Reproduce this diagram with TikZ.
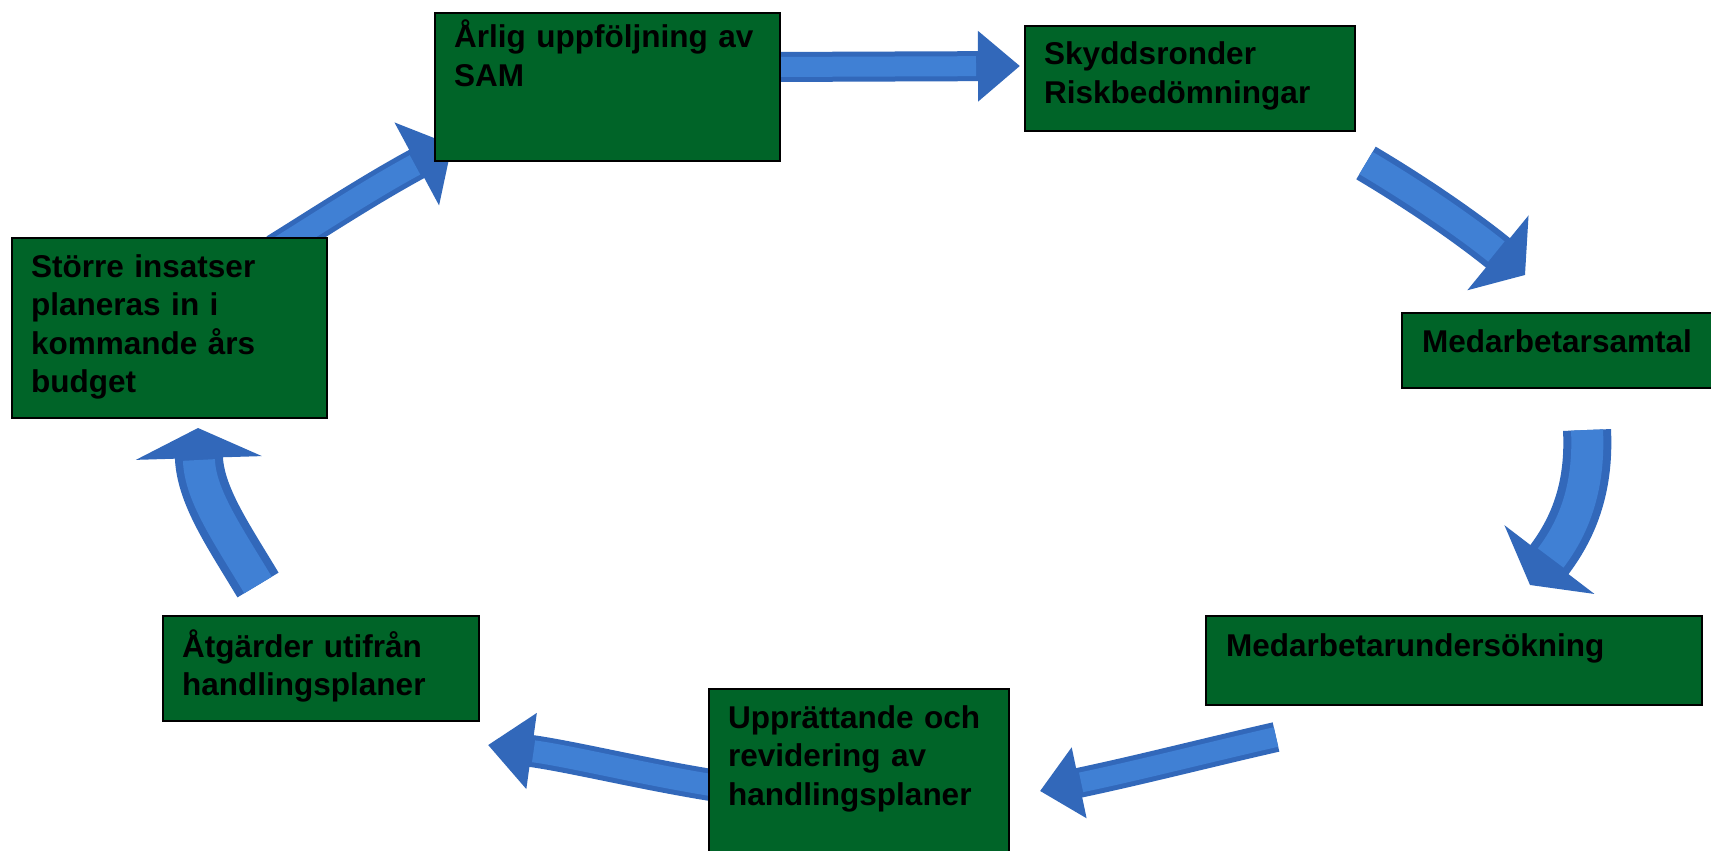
\documentclass[tikz,border=0pt]{standalone}
\usepackage{fontspec}
\setmainfont{Liberation Sans}
\usetikzlibrary{arrows.meta}
\definecolor{boxG}{RGB}{0,100,40}
\definecolor{arrD}{RGB}{50,104,186}
\definecolor{arrM}{RGB}{64,128,212}
\begin{document}
\begin{tikzpicture}[x=1pt,y=-1pt,
  box/.style={draw=black, line width=1.6pt, fill=boxG, inner sep=0pt, anchor=north west},
  lbl/.style={anchor=base west, inner sep=0pt, text width=430pt, align=left,
    font=\bfseries\fontsize{31.5}{38.5}\selectfont, text=black},
  arrowbody/.style n args={3}{draw=arrD, line width=#1, -{Triangle[width=#2,length=#3]}},
  shine/.style n args={2}{draw=arrM, line width=#1, shorten >=#2}
]
\useasboundingbox[fill=white] (0,0) rectangle (1711,851);

% arrow end points
\coordinate (a1s) at (770,67);   \coordinate (a1e) at (1020,66);
\coordinate (a2s) at (1366,163); \coordinate (a2e) at (1525,275);
\coordinate (a3s) at (1587,430); \coordinate (a3e) at (1530,585);
\coordinate (a4s) at (1276,737); \coordinate (a4e) at (1040,791);
\coordinate (a5s) at (730,788);  \coordinate (a5e) at (488,745);
\coordinate (a6s) at (258,585);  \coordinate (a6e) at (198,428);
\coordinate (a7s) at (275,250);  \coordinate (a7e) at (452,145);

% arrows
\draw[arrowbody={30pt}{68pt}{42pt}] (a1s) -- (a1e);
\draw[shine={20pt}{44pt}] (a1s) -- (a1e);

\draw[arrowbody={38pt}{95pt}{35pt}] (a2s) .. controls (1420,195) and (1470,230) .. (a2e);
\draw[shine={26pt}{37pt}] (a2s) .. controls (1420,195) and (1470,230) .. (a2e);

\draw[arrowbody={48pt}{112pt}{32pt}] (a3s) .. controls (1590,490) and (1572,530) .. (a3e);
\draw[shine={32pt}{34pt}] (a3s) .. controls (1590,490) and (1572,530) .. (a3e);

\draw[arrowbody={30pt}{70pt}{40pt}] (a4s) .. controls (1210,752) and (1140,770) .. (a4e);
\draw[shine={20pt}{42pt}] (a4s) .. controls (1210,752) and (1140,770) .. (a4e);

\draw[arrowbody={32pt}{74pt}{44pt}] (a5s) .. controls (650,776) and (575,757) .. (a5e);
\draw[shine={22pt}{46pt}] (a5s) .. controls (650,776) and (575,757) .. (a5e);

\draw[arrowbody={48pt}{125pt}{30pt}] (a6s) .. controls (228,535) and (200,495) .. (a6e);
\draw[shine={32pt}{32pt}] (a6s) .. controls (228,535) and (200,495) .. (a6e);

\draw[arrowbody={32pt}{92pt}{40pt}] (a7s) .. controls (320,222) and (372,188) .. (a7e);
\draw[shine={22pt}{42pt}] (a7s) .. controls (320,222) and (372,188) .. (a7e);

% boxes
\node[box, minimum width=345pt, minimum height=148pt] (b1) at (434,12) {};
\node[box, minimum width=330pt, minimum height=105pt] (b2) at (1024,25) {};
\node[box, minimum width=320pt, minimum height=75pt] (b3) at (1401,312) {};
\node[box, minimum width=496pt, minimum height=89pt] (b4) at (1205,615) {};
\node[box, minimum width=300pt, minimum height=175pt] (b5) at (708,688) {};
\node[box, minimum width=316pt, minimum height=105pt] (b6) at (162,615) {};
\node[box, minimum width=315pt, minimum height=180pt] (b7) at (11,237) {};

% labels
\node[lbl] (t1) at (454,48) {Årlig uppföljning av\\SAM};
\node[lbl] (t2) at (1044,65) {Skyddsronder\\Riskbedömningar};
\node[lbl] (t3) at (1422,352) {Medarbetarsamtal};
\node[lbl] (t4) at (1226,656) {Medarbetarundersökning};
\node[lbl] (t5) at (728,728) {Upprättande och\\revidering av\\handlingsplaner};
\node[lbl] (t6) at (182,657) {Åtgärder utifrån\\handlingsplaner};
\node[lbl] (t7) at (31,277) {Större insatser\\planeras in i\\kommande års\\budget};
\end{tikzpicture}
\end{document}
